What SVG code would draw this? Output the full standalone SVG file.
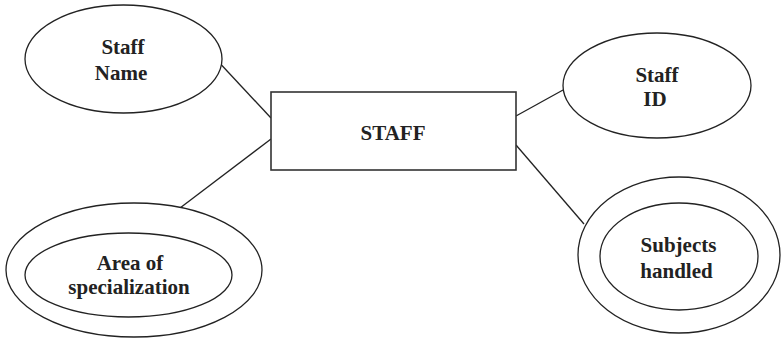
<svg xmlns="http://www.w3.org/2000/svg" width="781" height="339" viewBox="0 0 781 339">
  <style>
    .shape { fill: #ffffff; stroke: #222222; stroke-width: 1.3; }
    .box { fill: #ffffff; stroke: #333333; stroke-width: 1.6; }
    .link { stroke: #222222; stroke-width: 1.3; fill: none; }
    .label { font-family: "Liberation Serif", "Times New Roman", serif; font-weight: bold; font-size: 21px; fill: #222222; text-anchor: middle; }
  </style>
  <rect width="781" height="339" fill="#ffffff"/>

  <!-- connectors between the entity and its attributes -->
  <g id="connectors">
    <line class="link" x1="221.5" y1="65" x2="271" y2="118"/>
    <line class="link" x1="271" y1="139" x2="180" y2="208"/>
    <line class="link" x1="516" y1="116" x2="563" y2="90"/>
    <line class="link" x1="516" y1="145" x2="584" y2="224"/>
  </g>

  <g id="staff-name">
    <ellipse class="shape" cx="123.5" cy="59" rx="98.5" ry="54"/>
    <text class="label" x="123" y="54">Staff</text>
    <text class="label" x="121" y="80">Name</text>
  </g>

  <g id="staff">
    <rect class="box" x="271" y="92" width="245" height="78"/>
    <text class="label" x="393" y="140">STAFF</text>
  </g>

  <g id="staff-id">
    <ellipse class="shape" cx="657" cy="85.5" rx="94" ry="52.5"/>
    <text class="label" x="657" y="82">Staff</text>
    <text class="label" x="655" y="106">ID</text>
  </g>

  <!-- multivalued attributes: double ellipses -->
  <g id="area-of-specialization">
    <ellipse class="shape" cx="134" cy="270" rx="128" ry="67"/>
    <ellipse class="shape" cx="128.5" cy="275" rx="103.5" ry="42"/>
    <text class="label" x="130" y="270">Area of</text>
    <text class="label" x="129" y="294">specialization</text>
  </g>

  <g id="subjects-handled">
    <ellipse class="shape" cx="679" cy="255" rx="101" ry="78"/>
    <ellipse class="shape" cx="679" cy="256.5" rx="79" ry="53.5"/>
    <text class="label" x="678.5" y="252">Subjects</text>
    <text class="label" x="676.5" y="278">handled</text>
  </g>
</svg>
